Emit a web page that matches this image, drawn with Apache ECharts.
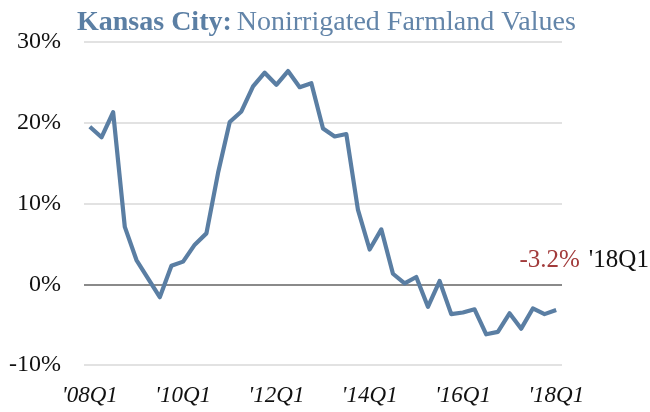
<!DOCTYPE html>
<html>
<head>
<meta charset="utf-8">
<script src="https://cdn.jsdelivr.net/npm/echarts@6/dist/echarts.min.js"></script>
<style>
  html, body { margin: 0; padding: 0; background: #ffffff; }
  #chart { width: 650px; height: 412px; }
</style>
</head>
<body>
<div id="chart"></div>
<script>
// Quarters 2008Q1 .. 2018Q1
const quarters = [];
for (let y = 2008; y <= 2018; y++) {
  for (let q = 1; q <= 4; q++) {
    if (y === 2018 && q > 1) break;
    quarters.push(y + 'Q' + q);
  }
}

// Year-over-year change in nonirrigated farmland values, percent
const values = [
  19.5, 18.2, 21.3, 7.1, 3.0, 0.7, -1.6, 2.3,
  2.8, 4.9, 6.3, 13.8, 20.1, 21.4, 24.5, 26.2,
  24.7, 26.4, 24.4, 24.9, 19.3, 18.3, 18.6, 9.2,
  4.3, 6.8, 1.3, 0.1, 0.9, -2.8, 0.4, -3.7,
  -3.5, -3.1, -6.2, -5.9, -3.6, -5.5, -3.0, -3.7,
  -3.2
];

const yTicks = [-10, 0, 10, 20, 30];

const lineColor = '#5a7ea3';
const serif = '"Liberation Serif", "DejaVu Serif", serif';

const lastIdx = values.length - 1;
const lastQuarter = quarters[lastIdx];
const lastValue = values[lastIdx];

const chart = echarts.init(document.getElementById('chart'), null, { renderer: 'canvas' });
chart.setOption({
  animation: false,
  backgroundColor: '#ffffff',
  title: {
    left: 72,
    top: 4,
    text: '{b|Kansas City:} {n|Nonirrigated Farmland Values}',
    textStyle: {
      rich: {
        b: { fontFamily: serif, fontWeight: 'bold', fontSize: 28, color: '#5b7fa4' },
        n: { fontFamily: serif, fontWeight: 'normal', fontSize: 28, color: '#6385a9' }
      }
    }
  },
  grid: { left: 84, right: 88, top: 42, bottom: 47, containLabel: false },
  xAxis: {
    type: 'category',
    data: quarters,
    boundaryGap: true,
    axisLine: { show: false },
    axisTick: { show: false },
    axisLabel: {
      interval: 7,
      margin: 19,
      fontFamily: serif,
      fontStyle: 'italic',
      fontSize: 23,
      color: '#111111',
      formatter: (v) => '\'' + v.slice(2)
    },
    splitLine: { show: false }
  },
  yAxis: {
    type: 'value',
    min: yTicks[0],
    max: yTicks[yTicks.length - 1],
    interval: 10,
    axisLine: { show: false },
    axisTick: { show: false },
    axisLabel: {
      margin: 23,
      fontFamily: serif,
      fontSize: 24,
      color: '#111111',
      formatter: '{value}%'
    },
    splitLine: { lineStyle: { color: '#d9d9d9', width: 1.5 } }
  },
  series: [{
    type: 'line',
    data: values,
    symbol: 'none',
    lineStyle: { color: lineColor, width: 4.2, join: 'round' },
    itemStyle: { color: lineColor },
    z: 3,
    markLine: {
      silent: true,
      symbol: 'none',
      label: { show: false },
      lineStyle: { color: '#8a8a8a', width: 2, type: 'solid' },
      data: [{ yAxis: 0 }],
      z: 2
    },
    markPoint: {
      silent: true,
      symbol: 'circle',
      symbolSize: 0,
      data: [{
        coord: [lastQuarter, lastValue],
        value: lastValue,
        label: {
          show: true,
          position: 'inside',
          offset: [28, -50],
          formatter: (p) => '{v|' + p.value.toFixed(1) + '%}{s| }{q|\'' + lastQuarter.slice(2) + '}',
          rich: {
            v: { color: '#a23b3b', fontSize: 25, fontFamily: serif },
            s: { fontSize: 25, fontFamily: serif, width: 9 },
            q: { color: '#111111', fontSize: 25, fontFamily: serif }
          }
        }
      }]
    }
  }]
});
</script>
</body>
</html>
